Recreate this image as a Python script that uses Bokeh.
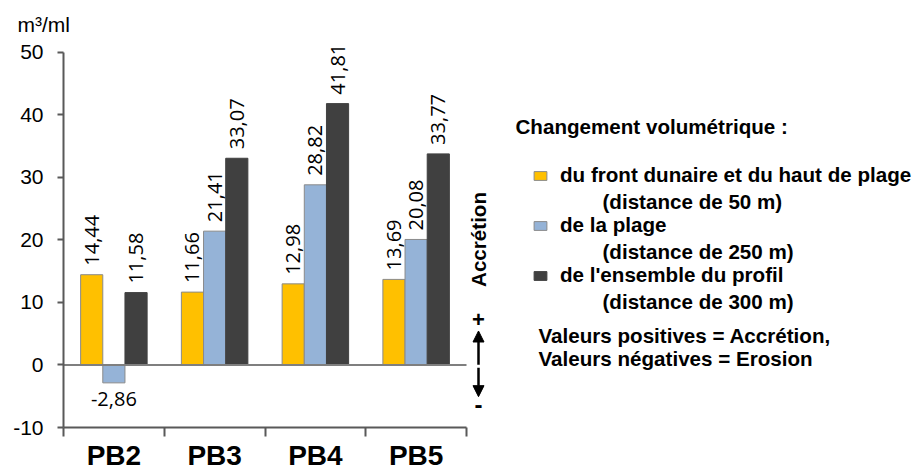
from math import pi
from bokeh.plotting import figure
from bokeh.models import (Range1d, FixedTicker, ColumnDataSource, LabelSet, Label,
                          Legend, LegendItem, Arrow, NormalHead)
from bokeh.core.properties import value
from bokeh.embed import file_html
from bokeh.resources import INLINE

# ---------------- data ----------------
categories = ["PB2", "PB3", "PB4", "PB5"]
dune_values = [14.44, 11.66, 12.98, 13.69]       # front dunaire + haut de plage (50 m)
beach_values = [-2.86, 21.41, 28.82, 20.08]      # plage (250 m)
profile_values = [11.58, 33.07, 41.81, 33.77]    # ensemble du profil (300 m)
series_names = ["du front dunaire et du haut de plage", "de la plage", "de l'ensemble du profil"]
series_notes = ["(distance de 50 m)", "(distance de 250 m)", "(distance de 300 m)"]
y_ticks = [-10, 0, 10, 20, 30, 40, 50]
y_min, y_max = -10, 50

# ---------------- layout / styles ----------------
W, H = 916, 473
LEFT, TOP, BOTTOM = 63, 36, 44          # frame borders (px)
PXU = 100.75                             # px per category
PYU = 377 / 60.0                         # px per m3/ml
x_end = (W - LEFT) / PXU
y_top = y_max + (429 - TOP - 377) / PYU

fill_colors = ["#FFC000", "#95B3D7", "#404040"]
line_colors = ["#8a8a8a", "#8a8a8a", "#404040"]
offsets = [-0.22, 0.0, 0.22]
bar_width = 0.22
AX = "#595959"
SANS = "Liberation Sans"
LBL = "Open Sans"
RFS = "20.6px"


def fr(v):
    return f"{v:.2f}".replace(".", ",")


def X(px):   # page px -> data x (for annotation placement)
    return (px - LEFT) / PXU


def Y(py):   # page px -> data y
    return y_min + (429 - py) / PYU


p = figure(width=W, height=H, x_range=Range1d(0, x_end), y_range=Range1d(y_min, y_top),
           output_backend="svg", toolbar_location=None,
           min_border_left=LEFT, min_border_right=0, min_border_top=TOP,
           min_border_bottom=BOTTOM)
p.outline_line_color = None
p.xgrid.visible = False
p.ygrid.visible = False

# title (unit)
p.title.text = "m³/ml"
p.title.align = "left"
p.title.offset = -46
p.title.text_font = SANS
p.title.text_font_style = "normal"
p.title.text_font_size = "21px"
p.title.text_color = "black"
p.title.standoff = 2

# y axis
p.yaxis.ticker = FixedTicker(ticks=y_ticks)
p.yaxis.bounds = (y_min, y_max)
p.yaxis.major_label_overrides = {t: str(t) for t in y_ticks}
p.yaxis.minor_tick_line_color = None
p.yaxis.major_tick_in = 0
p.yaxis.major_tick_out = 6
p.yaxis.major_label_standoff = 14
p.yaxis.axis_line_color = AX
p.yaxis.axis_line_width = 2
p.yaxis.major_tick_line_color = AX
p.yaxis.major_tick_line_width = 2
p.yaxis.major_label_text_font = SANS
p.yaxis.major_label_text_font_size = "21px"
p.yaxis.major_label_text_color = "black"

# x axis: labels at category centres, tick marks at category boundaries
n = len(categories)
p.xaxis.ticker = FixedTicker(ticks=[i + 0.5 for i in range(n)], minor_ticks=list(range(n + 1)))
p.xaxis.bounds = (0, n)
p.xaxis.major_label_overrides = {i + 0.5: c for i, c in enumerate(categories)}
p.xaxis.major_tick_line_color = None
p.xaxis.major_tick_in = 0
p.xaxis.major_tick_out = 0
p.xaxis.minor_tick_in = 0
p.xaxis.minor_tick_out = 9
p.xaxis.minor_tick_line_color = AX
p.xaxis.minor_tick_line_width = 2
p.xaxis.axis_line_color = AX
p.xaxis.axis_line_width = 2
p.xaxis.major_label_standoff = 3
p.xaxis.major_label_text_font = SANS
p.xaxis.major_label_text_font_style = "bold"
p.xaxis.major_label_text_font_size = "28px"
p.xaxis.major_label_text_color = "black"

series = [dune_values, beach_values, profile_values]
renderers = []
pos_x, pos_y, pos_t = [], [], []
neg_x, neg_y, neg_t = [], [], []
for vals, fc, lc, off in zip(series, fill_colors, line_colors, offsets):
    xs = [i + 0.5 + off for i in range(n)]
    r = p.vbar(x=xs, top=vals, bottom=0, width=bar_width, fill_color=fc,
               line_color=lc, line_width=1)
    renderers.append(r)
    for x, v in zip(xs, vals):
        if v >= 0:
            pos_x.append(x); pos_y.append(v); pos_t.append(fr(v))
        else:
            neg_x.append(x); neg_y.append(v); neg_t.append(fr(v))

# zero line across the category area
p.segment(x0=[0], y0=[0], x1=[n], y1=[0], line_color="#7f7f7f", line_width=2)

pos_src = ColumnDataSource(dict(x=pos_x, y=pos_y, t=pos_t))
neg_src = ColumnDataSource(dict(x=neg_x, y=neg_y, t=neg_t))
p.add_layout(LabelSet(x="x", y="y", text="t", source=pos_src, angle=pi / 2,
                      text_align="left", text_baseline="middle", y_offset=9,
                      text_font=value(LBL), text_font_size="20px", text_color="black"))
p.add_layout(LabelSet(x="x", y="y", text="t", source=neg_src, angle=0,
                      text_align="center", text_baseline="top", y_offset=-9,
                      text_font=value(LBL), text_font_size="20px", text_color="black"))

# legend block
bold = dict(text_font=SANS, text_font_style="bold", text_font_size=RFS,
            text_baseline="middle", text_color="black")
p.add_layout(Label(x=X(515), y=Y(126), text="Changement volumétrique :", **bold))
legend = Legend(items=[LegendItem(label=nm, renderers=[r]) for nm, r in zip(series_names, renderers)],
                location=(534 - LEFT - 2, 140), orientation="vertical", padding=0, margin=0,
                spacing=26, glyph_width=16, glyph_height=11, label_height=24, label_standoff=12,
                label_text_font=SANS, label_text_font_style="bold", label_text_font_size=RFS,
                label_text_color="black", border_line_color=None, background_fill_alpha=0)
p.add_layout(legend)
for note, py in zip(series_notes, [202, 252, 302]):
    p.add_layout(Label(x=X(602), y=Y(py), text=note, **bold))
p.add_layout(Label(x=X(538), y=Y(337), text="Valeurs positives = Accrétion,", **bold))
p.add_layout(Label(x=X(538), y=Y(360), text="Valeurs négatives = Erosion", **bold))

# accretion / erosion indicator
p.add_layout(Label(x=X(478), y=Y(240), text="Accrétion", angle=pi / 2, text_align="center", **bold))
p.add_layout(Label(x=X(478), y=Y(320), text="+", text_align="center", text_baseline="middle",
                   text_font=SANS, text_font_style="bold", text_font_size="22px", text_color="black"))
p.add_layout(Label(x=X(478), y=Y(406), text="-", text_align="center", text_baseline="middle",
                   text_font=SANS, text_font_style="bold", text_font_size="24px", text_color="black"))
p.add_layout(Arrow(x_start=X(478), y_start=Y(366), x_end=X(478), y_end=Y(332), line_width=2.5,
                   line_color="black", end=NormalHead(size=11, fill_color="black", line_color="black")))
p.add_layout(Arrow(x_start=X(478), y_start=Y(369), x_end=X(478), y_end=Y(398), line_width=2.5,
                   line_color="black", end=NormalHead(size=11, fill_color="black", line_color="black")))

open("out.html", "w").write(file_html(p, INLINE))
